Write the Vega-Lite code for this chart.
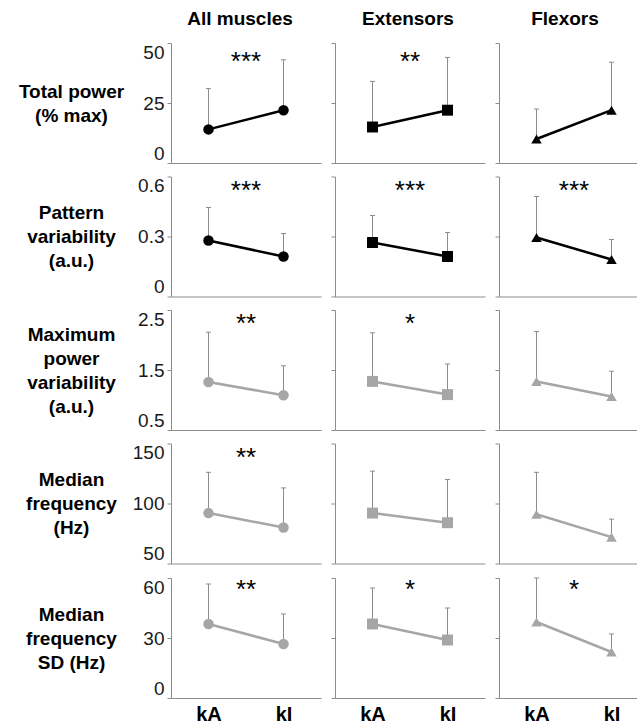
{
  "$schema": "https://vega.github.io/schema/vega-lite/v6.json",
  "padding": {"left": 18, "top": 9, "right": 0, "bottom": 0},
  "background": "white",
  "data": {"values": [
    {"m": "Total power", "g": "All muscles", "c": "kA", "v": 14, "e": 31, "s": "***"},
    {"m": "Total power", "g": "All muscles", "c": "kI", "v": 22, "e": 43, "s": "***"},
    {"m": "Total power", "g": "Extensors", "c": "kA", "v": 15, "e": 34, "s": "**"},
    {"m": "Total power", "g": "Extensors", "c": "kI", "v": 22, "e": 44, "s": "**"},
    {"m": "Total power", "g": "Flexors", "c": "kA", "v": 10, "e": 22.5, "s": ""},
    {"m": "Total power", "g": "Flexors", "c": "kI", "v": 22, "e": 42, "s": ""},
    {"m": "Pattern variability", "g": "All muscles", "c": "kA", "v": 0.28, "e": 0.445, "s": "***"},
    {"m": "Pattern variability", "g": "All muscles", "c": "kI", "v": 0.2, "e": 0.315, "s": "***"},
    {"m": "Pattern variability", "g": "Extensors", "c": "kA", "v": 0.27, "e": 0.405, "s": "***"},
    {"m": "Pattern variability", "g": "Extensors", "c": "kI", "v": 0.2, "e": 0.32, "s": "***"},
    {"m": "Pattern variability", "g": "Flexors", "c": "kA", "v": 0.295, "e": 0.5, "s": "***"},
    {"m": "Pattern variability", "g": "Flexors", "c": "kI", "v": 0.185, "e": 0.285, "s": "***"},
    {"m": "Maximum power variability", "g": "All muscles", "c": "kA", "v": 1.3, "e": 2.13, "s": "**"},
    {"m": "Maximum power variability", "g": "All muscles", "c": "kI", "v": 1.08, "e": 1.57, "s": "**"},
    {"m": "Maximum power variability", "g": "Extensors", "c": "kA", "v": 1.31, "e": 2.12, "s": "*"},
    {"m": "Maximum power variability", "g": "Extensors", "c": "kI", "v": 1.09, "e": 1.6, "s": "*"},
    {"m": "Maximum power variability", "g": "Flexors", "c": "kA", "v": 1.31, "e": 2.14, "s": ""},
    {"m": "Maximum power variability", "g": "Flexors", "c": "kI", "v": 1.06, "e": 1.48, "s": ""},
    {"m": "Median frequency", "g": "All muscles", "c": "kA", "v": 92, "e": 126, "s": "**"},
    {"m": "Median frequency", "g": "All muscles", "c": "kI", "v": 80, "e": 113, "s": "**"},
    {"m": "Median frequency", "g": "Extensors", "c": "kA", "v": 92, "e": 127, "s": ""},
    {"m": "Median frequency", "g": "Extensors", "c": "kI", "v": 84, "e": 120, "s": ""},
    {"m": "Median frequency", "g": "Flexors", "c": "kA", "v": 91, "e": 126, "s": ""},
    {"m": "Median frequency", "g": "Flexors", "c": "kI", "v": 72, "e": 87, "s": ""},
    {"m": "Median frequency SD", "g": "All muscles", "c": "kA", "v": 37, "e": 57, "s": "**"},
    {"m": "Median frequency SD", "g": "All muscles", "c": "kI", "v": 27, "e": 42, "s": "**"},
    {"m": "Median frequency SD", "g": "Extensors", "c": "kA", "v": 37, "e": 55, "s": "*"},
    {"m": "Median frequency SD", "g": "Extensors", "c": "kI", "v": 29, "e": 45, "s": "*"},
    {"m": "Median frequency SD", "g": "Flexors", "c": "kA", "v": 38, "e": 60, "s": "*"},
    {"m": "Median frequency SD", "g": "Flexors", "c": "kI", "v": 23, "e": 32, "s": "*"}
  ]},
  "columns": 3,
  "align": "each",
  "spacing": {"row": 11.5, "column": 9},
  "concat": [
    {"width": 150, "height": 120, "title": {"text": "All muscles", "dx": -6},
     "transform": [{"filter": "datum.m === 'Total power' && datum.g === 'All muscles'"}],
     "layer": [
       {"mark": {"type": "rule", "color": "#8c8c8c", "strokeWidth": 1}, "encoding": {"x": {"field": "c", "type": "ordinal", "scale": {"type": "point", "padding": 0.5}, "axis": {"title": null}}, "y": {"field": "v", "type": "quantitative", "scale": {"domain": [0, 50]}, "axis": {"values": [0, 25, 50], "format": ".3~r", "labels": true, "title": ["Total power", "(% max)"], "titleAngle": 0, "titleAlign": "center", "titleBaseline": "middle", "titleX": -100, "titleY": 48}}, "y2": {"field": "e"}}},
       {"mark": {"type": "tick", "color": "#8c8c8c", "size": 5, "thickness": 1, "opacity": 1}, "encoding": {"x": {"field": "c", "type": "ordinal", "scale": {"type": "point", "padding": 0.5}, "axis": {"title": null}}, "y": {"field": "e", "type": "quantitative", "scale": {"domain": [0, 50]}, "axis": {"values": [0, 25, 50], "format": ".3~r", "labels": true, "title": ["Total power", "(% max)"], "titleAngle": 0, "titleAlign": "center", "titleBaseline": "middle", "titleX": -100, "titleY": 48}}}},
       {"mark": {"type": "line", "color": "#000", "strokeWidth": 2.5}, "encoding": {"x": {"field": "c", "type": "ordinal", "scale": {"type": "point", "padding": 0.5}, "axis": {"title": null}}, "y": {"field": "v", "type": "quantitative", "scale": {"domain": [0, 50]}, "axis": {"values": [0, 25, 50], "format": ".3~r", "labels": true, "title": ["Total power", "(% max)"], "titleAngle": 0, "titleAlign": "center", "titleBaseline": "middle", "titleX": -100, "titleY": 48}}}},
       {"mark": {"type": "point", "shape": "circle", "filled": true, "size": 110, "color": "#000", "opacity": 1}, "encoding": {"x": {"field": "c", "type": "ordinal", "scale": {"type": "point", "padding": 0.5}, "axis": {"title": null}}, "y": {"field": "v", "type": "quantitative", "scale": {"domain": [0, 50]}, "axis": {"values": [0, 25, 50], "format": ".3~r", "labels": true, "title": ["Total power", "(% max)"], "titleAngle": 0, "titleAlign": "center", "titleBaseline": "middle", "titleX": -100, "titleY": 48}}}},
       {"transform": [{"filter": "datum.c === 'kA'"}], "mark": {"type": "text", "fontSize": 26, "font": "Liberation Sans", "color": "#000", "baseline": "middle"}, "encoding": {"y": {"datum": 42, "type": "quantitative", "scale": {"domain": [0, 50]}, "axis": {"values": [0, 25, 50], "format": ".3~r", "labels": true, "title": ["Total power", "(% max)"], "titleAngle": 0, "titleAlign": "center", "titleBaseline": "middle", "titleX": -100, "titleY": 48}}, "text": {"field": "s"}}}
     ]},
    {"width": 150, "height": 120, "title": {"text": "Extensors", "dx": -2},
     "transform": [{"filter": "datum.m === 'Total power' && datum.g === 'Extensors'"}],
     "layer": [
       {"mark": {"type": "rule", "color": "#8c8c8c", "strokeWidth": 1}, "encoding": {"x": {"field": "c", "type": "ordinal", "scale": {"type": "point", "padding": 0.5}, "axis": {"title": null}}, "y": {"field": "v", "type": "quantitative", "scale": {"domain": [0, 50]}, "axis": {"values": [0, 25, 50], "labels": false, "title": null}}, "y2": {"field": "e"}}},
       {"mark": {"type": "tick", "color": "#8c8c8c", "size": 5, "thickness": 1, "opacity": 1}, "encoding": {"x": {"field": "c", "type": "ordinal", "scale": {"type": "point", "padding": 0.5}, "axis": {"title": null}}, "y": {"field": "e", "type": "quantitative", "scale": {"domain": [0, 50]}, "axis": {"values": [0, 25, 50], "labels": false, "title": null}}}},
       {"mark": {"type": "line", "color": "#000", "strokeWidth": 2.5}, "encoding": {"x": {"field": "c", "type": "ordinal", "scale": {"type": "point", "padding": 0.5}, "axis": {"title": null}}, "y": {"field": "v", "type": "quantitative", "scale": {"domain": [0, 50]}, "axis": {"values": [0, 25, 50], "labels": false, "title": null}}}},
       {"mark": {"type": "point", "shape": "square", "filled": true, "size": 120, "color": "#000", "opacity": 1}, "encoding": {"x": {"field": "c", "type": "ordinal", "scale": {"type": "point", "padding": 0.5}, "axis": {"title": null}}, "y": {"field": "v", "type": "quantitative", "scale": {"domain": [0, 50]}, "axis": {"values": [0, 25, 50], "labels": false, "title": null}}}},
       {"transform": [{"filter": "datum.c === 'kA'"}], "mark": {"type": "text", "fontSize": 26, "font": "Liberation Sans", "color": "#000", "baseline": "middle"}, "encoding": {"y": {"datum": 42, "type": "quantitative", "scale": {"domain": [0, 50]}, "axis": {"values": [0, 25, 50], "labels": false, "title": null}}, "text": {"field": "s"}}}
     ]},
    {"width": 150, "height": 120, "title": {"text": "Flexors", "dx": -9},
     "transform": [{"filter": "datum.m === 'Total power' && datum.g === 'Flexors'"}],
     "layer": [
       {"mark": {"type": "rule", "color": "#8c8c8c", "strokeWidth": 1}, "encoding": {"x": {"field": "c", "type": "ordinal", "scale": {"type": "point", "padding": 0.5}, "axis": {"title": null}}, "y": {"field": "v", "type": "quantitative", "scale": {"domain": [0, 50]}, "axis": {"values": [0, 25, 50], "labels": false, "title": null}}, "y2": {"field": "e"}}},
       {"mark": {"type": "tick", "color": "#8c8c8c", "size": 5, "thickness": 1, "opacity": 1}, "encoding": {"x": {"field": "c", "type": "ordinal", "scale": {"type": "point", "padding": 0.5}, "axis": {"title": null}}, "y": {"field": "e", "type": "quantitative", "scale": {"domain": [0, 50]}, "axis": {"values": [0, 25, 50], "labels": false, "title": null}}}},
       {"mark": {"type": "line", "color": "#000", "strokeWidth": 2.5}, "encoding": {"x": {"field": "c", "type": "ordinal", "scale": {"type": "point", "padding": 0.5}, "axis": {"title": null}}, "y": {"field": "v", "type": "quantitative", "scale": {"domain": [0, 50]}, "axis": {"values": [0, 25, 50], "labels": false, "title": null}}}},
       {"mark": {"type": "point", "shape": "triangle-up", "filled": true, "size": 110, "color": "#000", "opacity": 1}, "encoding": {"x": {"field": "c", "type": "ordinal", "scale": {"type": "point", "padding": 0.5}, "axis": {"title": null}}, "y": {"field": "v", "type": "quantitative", "scale": {"domain": [0, 50]}, "axis": {"values": [0, 25, 50], "labels": false, "title": null}}}},
       {"transform": [{"filter": "datum.c === 'kA'"}], "mark": {"type": "text", "fontSize": 26, "font": "Liberation Sans", "color": "#000", "baseline": "middle"}, "encoding": {"y": {"datum": 42, "type": "quantitative", "scale": {"domain": [0, 50]}, "axis": {"values": [0, 25, 50], "labels": false, "title": null}}, "text": {"field": "s"}}}
     ]},

    {"width": 150, "height": 120,
     "transform": [{"filter": "datum.m === 'Pattern variability' && datum.g === 'All muscles'"}],
     "layer": [
       {"mark": {"type": "rule", "color": "#8c8c8c", "strokeWidth": 1}, "encoding": {"x": {"field": "c", "type": "ordinal", "scale": {"type": "point", "padding": 0.5}, "axis": {"title": null}}, "y": {"field": "v", "type": "quantitative", "scale": {"domain": [0, 0.6]}, "axis": {"values": [0, 0.3, 0.6], "format": ".3~r", "labels": true, "title": ["Pattern", "variability", "(a.u.)"], "titleAngle": 0, "titleAlign": "center", "titleBaseline": "middle", "titleX": -100, "titleY": 36}}, "y2": {"field": "e"}}},
       {"mark": {"type": "tick", "color": "#8c8c8c", "size": 5, "thickness": 1, "opacity": 1}, "encoding": {"x": {"field": "c", "type": "ordinal", "scale": {"type": "point", "padding": 0.5}, "axis": {"title": null}}, "y": {"field": "e", "type": "quantitative", "scale": {"domain": [0, 0.6]}, "axis": {"values": [0, 0.3, 0.6], "format": ".3~r", "labels": true, "title": ["Pattern", "variability", "(a.u.)"], "titleAngle": 0, "titleAlign": "center", "titleBaseline": "middle", "titleX": -100, "titleY": 36}}}},
       {"mark": {"type": "line", "color": "#000", "strokeWidth": 2.5}, "encoding": {"x": {"field": "c", "type": "ordinal", "scale": {"type": "point", "padding": 0.5}, "axis": {"title": null}}, "y": {"field": "v", "type": "quantitative", "scale": {"domain": [0, 0.6]}, "axis": {"values": [0, 0.3, 0.6], "format": ".3~r", "labels": true, "title": ["Pattern", "variability", "(a.u.)"], "titleAngle": 0, "titleAlign": "center", "titleBaseline": "middle", "titleX": -100, "titleY": 36}}}},
       {"mark": {"type": "point", "shape": "circle", "filled": true, "size": 110, "color": "#000", "opacity": 1}, "encoding": {"x": {"field": "c", "type": "ordinal", "scale": {"type": "point", "padding": 0.5}, "axis": {"title": null}}, "y": {"field": "v", "type": "quantitative", "scale": {"domain": [0, 0.6]}, "axis": {"values": [0, 0.3, 0.6], "format": ".3~r", "labels": true, "title": ["Pattern", "variability", "(a.u.)"], "titleAngle": 0, "titleAlign": "center", "titleBaseline": "middle", "titleX": -100, "titleY": 36}}}},
       {"transform": [{"filter": "datum.c === 'kA'"}], "mark": {"type": "text", "fontSize": 26, "font": "Liberation Sans", "color": "#000", "baseline": "middle"}, "encoding": {"y": {"datum": 0.53, "type": "quantitative", "scale": {"domain": [0, 0.6]}, "axis": {"values": [0, 0.3, 0.6], "format": ".3~r", "labels": true, "title": ["Pattern", "variability", "(a.u.)"], "titleAngle": 0, "titleAlign": "center", "titleBaseline": "middle", "titleX": -100, "titleY": 36}}, "text": {"field": "s"}}}
     ]},
    {"width": 150, "height": 120,
     "transform": [{"filter": "datum.m === 'Pattern variability' && datum.g === 'Extensors'"}],
     "layer": [
       {"mark": {"type": "rule", "color": "#8c8c8c", "strokeWidth": 1}, "encoding": {"x": {"field": "c", "type": "ordinal", "scale": {"type": "point", "padding": 0.5}, "axis": {"title": null}}, "y": {"field": "v", "type": "quantitative", "scale": {"domain": [0, 0.6]}, "axis": {"values": [0, 0.3, 0.6], "labels": false, "title": null}}, "y2": {"field": "e"}}},
       {"mark": {"type": "tick", "color": "#8c8c8c", "size": 5, "thickness": 1, "opacity": 1}, "encoding": {"x": {"field": "c", "type": "ordinal", "scale": {"type": "point", "padding": 0.5}, "axis": {"title": null}}, "y": {"field": "e", "type": "quantitative", "scale": {"domain": [0, 0.6]}, "axis": {"values": [0, 0.3, 0.6], "labels": false, "title": null}}}},
       {"mark": {"type": "line", "color": "#000", "strokeWidth": 2.5}, "encoding": {"x": {"field": "c", "type": "ordinal", "scale": {"type": "point", "padding": 0.5}, "axis": {"title": null}}, "y": {"field": "v", "type": "quantitative", "scale": {"domain": [0, 0.6]}, "axis": {"values": [0, 0.3, 0.6], "labels": false, "title": null}}}},
       {"mark": {"type": "point", "shape": "square", "filled": true, "size": 120, "color": "#000", "opacity": 1}, "encoding": {"x": {"field": "c", "type": "ordinal", "scale": {"type": "point", "padding": 0.5}, "axis": {"title": null}}, "y": {"field": "v", "type": "quantitative", "scale": {"domain": [0, 0.6]}, "axis": {"values": [0, 0.3, 0.6], "labels": false, "title": null}}}},
       {"transform": [{"filter": "datum.c === 'kA'"}], "mark": {"type": "text", "fontSize": 26, "font": "Liberation Sans", "color": "#000", "baseline": "middle"}, "encoding": {"y": {"datum": 0.53, "type": "quantitative", "scale": {"domain": [0, 0.6]}, "axis": {"values": [0, 0.3, 0.6], "labels": false, "title": null}}, "text": {"field": "s"}}}
     ]},
    {"width": 150, "height": 120,
     "transform": [{"filter": "datum.m === 'Pattern variability' && datum.g === 'Flexors'"}],
     "layer": [
       {"mark": {"type": "rule", "color": "#8c8c8c", "strokeWidth": 1}, "encoding": {"x": {"field": "c", "type": "ordinal", "scale": {"type": "point", "padding": 0.5}, "axis": {"title": null}}, "y": {"field": "v", "type": "quantitative", "scale": {"domain": [0, 0.6]}, "axis": {"values": [0, 0.3, 0.6], "labels": false, "title": null}}, "y2": {"field": "e"}}},
       {"mark": {"type": "tick", "color": "#8c8c8c", "size": 5, "thickness": 1, "opacity": 1}, "encoding": {"x": {"field": "c", "type": "ordinal", "scale": {"type": "point", "padding": 0.5}, "axis": {"title": null}}, "y": {"field": "e", "type": "quantitative", "scale": {"domain": [0, 0.6]}, "axis": {"values": [0, 0.3, 0.6], "labels": false, "title": null}}}},
       {"mark": {"type": "line", "color": "#000", "strokeWidth": 2.5}, "encoding": {"x": {"field": "c", "type": "ordinal", "scale": {"type": "point", "padding": 0.5}, "axis": {"title": null}}, "y": {"field": "v", "type": "quantitative", "scale": {"domain": [0, 0.6]}, "axis": {"values": [0, 0.3, 0.6], "labels": false, "title": null}}}},
       {"mark": {"type": "point", "shape": "triangle-up", "filled": true, "size": 110, "color": "#000", "opacity": 1}, "encoding": {"x": {"field": "c", "type": "ordinal", "scale": {"type": "point", "padding": 0.5}, "axis": {"title": null}}, "y": {"field": "v", "type": "quantitative", "scale": {"domain": [0, 0.6]}, "axis": {"values": [0, 0.3, 0.6], "labels": false, "title": null}}}},
       {"transform": [{"filter": "datum.c === 'kA'"}], "mark": {"type": "text", "fontSize": 26, "font": "Liberation Sans", "color": "#000", "baseline": "middle"}, "encoding": {"y": {"datum": 0.53, "type": "quantitative", "scale": {"domain": [0, 0.6]}, "axis": {"values": [0, 0.3, 0.6], "labels": false, "title": null}}, "text": {"field": "s"}}}
     ]},

    {"width": 150, "height": 120,
     "transform": [{"filter": "datum.m === 'Maximum power variability' && datum.g === 'All muscles'"}],
     "layer": [
       {"mark": {"type": "rule", "color": "#8c8c8c", "strokeWidth": 1}, "encoding": {"x": {"field": "c", "type": "ordinal", "scale": {"type": "point", "padding": 0.5}, "axis": {"title": null}}, "y": {"field": "v", "type": "quantitative", "scale": {"domain": [0.5, 2.5]}, "axis": {"values": [0.5, 1.5, 2.5], "format": ".3~r", "labels": true, "title": ["Maximum", "power", "variability", "(a.u.)"], "titleAngle": 0, "titleAlign": "center", "titleBaseline": "middle", "titleX": -100, "titleY": 24}}, "y2": {"field": "e"}}},
       {"mark": {"type": "tick", "color": "#8c8c8c", "size": 5, "thickness": 1, "opacity": 1}, "encoding": {"x": {"field": "c", "type": "ordinal", "scale": {"type": "point", "padding": 0.5}, "axis": {"title": null}}, "y": {"field": "e", "type": "quantitative", "scale": {"domain": [0.5, 2.5]}, "axis": {"values": [0.5, 1.5, 2.5], "format": ".3~r", "labels": true, "title": ["Maximum", "power", "variability", "(a.u.)"], "titleAngle": 0, "titleAlign": "center", "titleBaseline": "middle", "titleX": -100, "titleY": 24}}}},
       {"mark": {"type": "line", "color": "#a6a6a6", "strokeWidth": 2.5}, "encoding": {"x": {"field": "c", "type": "ordinal", "scale": {"type": "point", "padding": 0.5}, "axis": {"title": null}}, "y": {"field": "v", "type": "quantitative", "scale": {"domain": [0.5, 2.5]}, "axis": {"values": [0.5, 1.5, 2.5], "format": ".3~r", "labels": true, "title": ["Maximum", "power", "variability", "(a.u.)"], "titleAngle": 0, "titleAlign": "center", "titleBaseline": "middle", "titleX": -100, "titleY": 24}}}},
       {"mark": {"type": "point", "shape": "circle", "filled": true, "size": 110, "color": "#a6a6a6", "opacity": 1}, "encoding": {"x": {"field": "c", "type": "ordinal", "scale": {"type": "point", "padding": 0.5}, "axis": {"title": null}}, "y": {"field": "v", "type": "quantitative", "scale": {"domain": [0.5, 2.5]}, "axis": {"values": [0.5, 1.5, 2.5], "format": ".3~r", "labels": true, "title": ["Maximum", "power", "variability", "(a.u.)"], "titleAngle": 0, "titleAlign": "center", "titleBaseline": "middle", "titleX": -100, "titleY": 24}}}},
       {"transform": [{"filter": "datum.c === 'kA'"}], "mark": {"type": "text", "fontSize": 26, "font": "Liberation Sans", "color": "#000", "baseline": "middle"}, "encoding": {"y": {"datum": 2.27, "type": "quantitative", "scale": {"domain": [0.5, 2.5]}, "axis": {"values": [0.5, 1.5, 2.5], "format": ".3~r", "labels": true, "title": ["Maximum", "power", "variability", "(a.u.)"], "titleAngle": 0, "titleAlign": "center", "titleBaseline": "middle", "titleX": -100, "titleY": 24}}, "text": {"field": "s"}}}
     ]},
    {"width": 150, "height": 120,
     "transform": [{"filter": "datum.m === 'Maximum power variability' && datum.g === 'Extensors'"}],
     "layer": [
       {"mark": {"type": "rule", "color": "#8c8c8c", "strokeWidth": 1}, "encoding": {"x": {"field": "c", "type": "ordinal", "scale": {"type": "point", "padding": 0.5}, "axis": {"title": null}}, "y": {"field": "v", "type": "quantitative", "scale": {"domain": [0.5, 2.5]}, "axis": {"values": [0.5, 1.5, 2.5], "labels": false, "title": null}}, "y2": {"field": "e"}}},
       {"mark": {"type": "tick", "color": "#8c8c8c", "size": 5, "thickness": 1, "opacity": 1}, "encoding": {"x": {"field": "c", "type": "ordinal", "scale": {"type": "point", "padding": 0.5}, "axis": {"title": null}}, "y": {"field": "e", "type": "quantitative", "scale": {"domain": [0.5, 2.5]}, "axis": {"values": [0.5, 1.5, 2.5], "labels": false, "title": null}}}},
       {"mark": {"type": "line", "color": "#a6a6a6", "strokeWidth": 2.5}, "encoding": {"x": {"field": "c", "type": "ordinal", "scale": {"type": "point", "padding": 0.5}, "axis": {"title": null}}, "y": {"field": "v", "type": "quantitative", "scale": {"domain": [0.5, 2.5]}, "axis": {"values": [0.5, 1.5, 2.5], "labels": false, "title": null}}}},
       {"mark": {"type": "point", "shape": "square", "filled": true, "size": 120, "color": "#a6a6a6", "opacity": 1}, "encoding": {"x": {"field": "c", "type": "ordinal", "scale": {"type": "point", "padding": 0.5}, "axis": {"title": null}}, "y": {"field": "v", "type": "quantitative", "scale": {"domain": [0.5, 2.5]}, "axis": {"values": [0.5, 1.5, 2.5], "labels": false, "title": null}}}},
       {"transform": [{"filter": "datum.c === 'kA'"}], "mark": {"type": "text", "fontSize": 26, "font": "Liberation Sans", "color": "#000", "baseline": "middle"}, "encoding": {"y": {"datum": 2.27, "type": "quantitative", "scale": {"domain": [0.5, 2.5]}, "axis": {"values": [0.5, 1.5, 2.5], "labels": false, "title": null}}, "text": {"field": "s"}}}
     ]},
    {"width": 150, "height": 120,
     "transform": [{"filter": "datum.m === 'Maximum power variability' && datum.g === 'Flexors'"}],
     "layer": [
       {"mark": {"type": "rule", "color": "#8c8c8c", "strokeWidth": 1}, "encoding": {"x": {"field": "c", "type": "ordinal", "scale": {"type": "point", "padding": 0.5}, "axis": {"title": null}}, "y": {"field": "v", "type": "quantitative", "scale": {"domain": [0.5, 2.5]}, "axis": {"values": [0.5, 1.5, 2.5], "labels": false, "title": null}}, "y2": {"field": "e"}}},
       {"mark": {"type": "tick", "color": "#8c8c8c", "size": 5, "thickness": 1, "opacity": 1}, "encoding": {"x": {"field": "c", "type": "ordinal", "scale": {"type": "point", "padding": 0.5}, "axis": {"title": null}}, "y": {"field": "e", "type": "quantitative", "scale": {"domain": [0.5, 2.5]}, "axis": {"values": [0.5, 1.5, 2.5], "labels": false, "title": null}}}},
       {"mark": {"type": "line", "color": "#a6a6a6", "strokeWidth": 2.5}, "encoding": {"x": {"field": "c", "type": "ordinal", "scale": {"type": "point", "padding": 0.5}, "axis": {"title": null}}, "y": {"field": "v", "type": "quantitative", "scale": {"domain": [0.5, 2.5]}, "axis": {"values": [0.5, 1.5, 2.5], "labels": false, "title": null}}}},
       {"mark": {"type": "point", "shape": "triangle-up", "filled": true, "size": 110, "color": "#a6a6a6", "opacity": 1}, "encoding": {"x": {"field": "c", "type": "ordinal", "scale": {"type": "point", "padding": 0.5}, "axis": {"title": null}}, "y": {"field": "v", "type": "quantitative", "scale": {"domain": [0.5, 2.5]}, "axis": {"values": [0.5, 1.5, 2.5], "labels": false, "title": null}}}},
       {"transform": [{"filter": "datum.c === 'kA'"}], "mark": {"type": "text", "fontSize": 26, "font": "Liberation Sans", "color": "#000", "baseline": "middle"}, "encoding": {"y": {"datum": 2.27, "type": "quantitative", "scale": {"domain": [0.5, 2.5]}, "axis": {"values": [0.5, 1.5, 2.5], "labels": false, "title": null}}, "text": {"field": "s"}}}
     ]},

    {"width": 150, "height": 120,
     "transform": [{"filter": "datum.m === 'Median frequency' && datum.g === 'All muscles'"}],
     "layer": [
       {"mark": {"type": "rule", "color": "#8c8c8c", "strokeWidth": 1}, "encoding": {"x": {"field": "c", "type": "ordinal", "scale": {"type": "point", "padding": 0.5}, "axis": {"title": null}}, "y": {"field": "v", "type": "quantitative", "scale": {"domain": [50, 150]}, "axis": {"values": [50, 100, 150], "format": ".3~r", "labels": true, "title": ["Median", "frequency", "(Hz)"], "titleAngle": 0, "titleAlign": "center", "titleBaseline": "middle", "titleX": -100, "titleY": 36}}, "y2": {"field": "e"}}},
       {"mark": {"type": "tick", "color": "#8c8c8c", "size": 5, "thickness": 1, "opacity": 1}, "encoding": {"x": {"field": "c", "type": "ordinal", "scale": {"type": "point", "padding": 0.5}, "axis": {"title": null}}, "y": {"field": "e", "type": "quantitative", "scale": {"domain": [50, 150]}, "axis": {"values": [50, 100, 150], "format": ".3~r", "labels": true, "title": ["Median", "frequency", "(Hz)"], "titleAngle": 0, "titleAlign": "center", "titleBaseline": "middle", "titleX": -100, "titleY": 36}}}},
       {"mark": {"type": "line", "color": "#a6a6a6", "strokeWidth": 2.5}, "encoding": {"x": {"field": "c", "type": "ordinal", "scale": {"type": "point", "padding": 0.5}, "axis": {"title": null}}, "y": {"field": "v", "type": "quantitative", "scale": {"domain": [50, 150]}, "axis": {"values": [50, 100, 150], "format": ".3~r", "labels": true, "title": ["Median", "frequency", "(Hz)"], "titleAngle": 0, "titleAlign": "center", "titleBaseline": "middle", "titleX": -100, "titleY": 36}}}},
       {"mark": {"type": "point", "shape": "circle", "filled": true, "size": 110, "color": "#a6a6a6", "opacity": 1}, "encoding": {"x": {"field": "c", "type": "ordinal", "scale": {"type": "point", "padding": 0.5}, "axis": {"title": null}}, "y": {"field": "v", "type": "quantitative", "scale": {"domain": [50, 150]}, "axis": {"values": [50, 100, 150], "format": ".3~r", "labels": true, "title": ["Median", "frequency", "(Hz)"], "titleAngle": 0, "titleAlign": "center", "titleBaseline": "middle", "titleX": -100, "titleY": 36}}}},
       {"transform": [{"filter": "datum.c === 'kA'"}], "mark": {"type": "text", "fontSize": 26, "font": "Liberation Sans", "color": "#000", "baseline": "middle"}, "encoding": {"y": {"datum": 138, "type": "quantitative", "scale": {"domain": [50, 150]}, "axis": {"values": [50, 100, 150], "format": ".3~r", "labels": true, "title": ["Median", "frequency", "(Hz)"], "titleAngle": 0, "titleAlign": "center", "titleBaseline": "middle", "titleX": -100, "titleY": 36}}, "text": {"field": "s"}}}
     ]},
    {"width": 150, "height": 120,
     "transform": [{"filter": "datum.m === 'Median frequency' && datum.g === 'Extensors'"}],
     "layer": [
       {"mark": {"type": "rule", "color": "#8c8c8c", "strokeWidth": 1}, "encoding": {"x": {"field": "c", "type": "ordinal", "scale": {"type": "point", "padding": 0.5}, "axis": {"title": null}}, "y": {"field": "v", "type": "quantitative", "scale": {"domain": [50, 150]}, "axis": {"values": [50, 100, 150], "labels": false, "title": null}}, "y2": {"field": "e"}}},
       {"mark": {"type": "tick", "color": "#8c8c8c", "size": 5, "thickness": 1, "opacity": 1}, "encoding": {"x": {"field": "c", "type": "ordinal", "scale": {"type": "point", "padding": 0.5}, "axis": {"title": null}}, "y": {"field": "e", "type": "quantitative", "scale": {"domain": [50, 150]}, "axis": {"values": [50, 100, 150], "labels": false, "title": null}}}},
       {"mark": {"type": "line", "color": "#a6a6a6", "strokeWidth": 2.5}, "encoding": {"x": {"field": "c", "type": "ordinal", "scale": {"type": "point", "padding": 0.5}, "axis": {"title": null}}, "y": {"field": "v", "type": "quantitative", "scale": {"domain": [50, 150]}, "axis": {"values": [50, 100, 150], "labels": false, "title": null}}}},
       {"mark": {"type": "point", "shape": "square", "filled": true, "size": 120, "color": "#a6a6a6", "opacity": 1}, "encoding": {"x": {"field": "c", "type": "ordinal", "scale": {"type": "point", "padding": 0.5}, "axis": {"title": null}}, "y": {"field": "v", "type": "quantitative", "scale": {"domain": [50, 150]}, "axis": {"values": [50, 100, 150], "labels": false, "title": null}}}},
       {"transform": [{"filter": "datum.c === 'kA'"}], "mark": {"type": "text", "fontSize": 26, "font": "Liberation Sans", "color": "#000", "baseline": "middle"}, "encoding": {"y": {"datum": 138, "type": "quantitative", "scale": {"domain": [50, 150]}, "axis": {"values": [50, 100, 150], "labels": false, "title": null}}, "text": {"field": "s"}}}
     ]},
    {"width": 150, "height": 120,
     "transform": [{"filter": "datum.m === 'Median frequency' && datum.g === 'Flexors'"}],
     "layer": [
       {"mark": {"type": "rule", "color": "#8c8c8c", "strokeWidth": 1}, "encoding": {"x": {"field": "c", "type": "ordinal", "scale": {"type": "point", "padding": 0.5}, "axis": {"title": null}}, "y": {"field": "v", "type": "quantitative", "scale": {"domain": [50, 150]}, "axis": {"values": [50, 100, 150], "labels": false, "title": null}}, "y2": {"field": "e"}}},
       {"mark": {"type": "tick", "color": "#8c8c8c", "size": 5, "thickness": 1, "opacity": 1}, "encoding": {"x": {"field": "c", "type": "ordinal", "scale": {"type": "point", "padding": 0.5}, "axis": {"title": null}}, "y": {"field": "e", "type": "quantitative", "scale": {"domain": [50, 150]}, "axis": {"values": [50, 100, 150], "labels": false, "title": null}}}},
       {"mark": {"type": "line", "color": "#a6a6a6", "strokeWidth": 2.5}, "encoding": {"x": {"field": "c", "type": "ordinal", "scale": {"type": "point", "padding": 0.5}, "axis": {"title": null}}, "y": {"field": "v", "type": "quantitative", "scale": {"domain": [50, 150]}, "axis": {"values": [50, 100, 150], "labels": false, "title": null}}}},
       {"mark": {"type": "point", "shape": "triangle-up", "filled": true, "size": 110, "color": "#a6a6a6", "opacity": 1}, "encoding": {"x": {"field": "c", "type": "ordinal", "scale": {"type": "point", "padding": 0.5}, "axis": {"title": null}}, "y": {"field": "v", "type": "quantitative", "scale": {"domain": [50, 150]}, "axis": {"values": [50, 100, 150], "labels": false, "title": null}}}},
       {"transform": [{"filter": "datum.c === 'kA'"}], "mark": {"type": "text", "fontSize": 26, "font": "Liberation Sans", "color": "#000", "baseline": "middle"}, "encoding": {"y": {"datum": 138, "type": "quantitative", "scale": {"domain": [50, 150]}, "axis": {"values": [50, 100, 150], "labels": false, "title": null}}, "text": {"field": "s"}}}
     ]},

    {"width": 150, "height": 120,
     "transform": [{"filter": "datum.m === 'Median frequency SD' && datum.g === 'All muscles'"}],
     "layer": [
       {"mark": {"type": "rule", "color": "#8c8c8c", "strokeWidth": 1}, "encoding": {"x": {"field": "c", "type": "ordinal", "scale": {"type": "point", "padding": 0.5}, "axis": {"title": null, "labels": true}}, "y": {"field": "v", "type": "quantitative", "scale": {"domain": [0, 60]}, "axis": {"values": [0, 30, 60], "format": ".3~r", "labels": true, "title": ["Median", "frequency", "SD (Hz)"], "titleAngle": 0, "titleAlign": "center", "titleBaseline": "middle", "titleX": -100, "titleY": 36}}, "y2": {"field": "e"}}},
       {"mark": {"type": "tick", "color": "#8c8c8c", "size": 5, "thickness": 1, "opacity": 1}, "encoding": {"x": {"field": "c", "type": "ordinal", "scale": {"type": "point", "padding": 0.5}, "axis": {"title": null, "labels": true}}, "y": {"field": "e", "type": "quantitative", "scale": {"domain": [0, 60]}, "axis": {"values": [0, 30, 60], "format": ".3~r", "labels": true, "title": ["Median", "frequency", "SD (Hz)"], "titleAngle": 0, "titleAlign": "center", "titleBaseline": "middle", "titleX": -100, "titleY": 36}}}},
       {"mark": {"type": "line", "color": "#a6a6a6", "strokeWidth": 2.5}, "encoding": {"x": {"field": "c", "type": "ordinal", "scale": {"type": "point", "padding": 0.5}, "axis": {"title": null, "labels": true}}, "y": {"field": "v", "type": "quantitative", "scale": {"domain": [0, 60]}, "axis": {"values": [0, 30, 60], "format": ".3~r", "labels": true, "title": ["Median", "frequency", "SD (Hz)"], "titleAngle": 0, "titleAlign": "center", "titleBaseline": "middle", "titleX": -100, "titleY": 36}}}},
       {"mark": {"type": "point", "shape": "circle", "filled": true, "size": 110, "color": "#a6a6a6", "opacity": 1}, "encoding": {"x": {"field": "c", "type": "ordinal", "scale": {"type": "point", "padding": 0.5}, "axis": {"title": null, "labels": true}}, "y": {"field": "v", "type": "quantitative", "scale": {"domain": [0, 60]}, "axis": {"values": [0, 30, 60], "format": ".3~r", "labels": true, "title": ["Median", "frequency", "SD (Hz)"], "titleAngle": 0, "titleAlign": "center", "titleBaseline": "middle", "titleX": -100, "titleY": 36}}}},
       {"transform": [{"filter": "datum.c === 'kA'"}], "mark": {"type": "text", "fontSize": 26, "font": "Liberation Sans", "color": "#000", "baseline": "middle"}, "encoding": {"y": {"datum": 54, "type": "quantitative", "scale": {"domain": [0, 60]}, "axis": {"values": [0, 30, 60], "format": ".3~r", "labels": true, "title": ["Median", "frequency", "SD (Hz)"], "titleAngle": 0, "titleAlign": "center", "titleBaseline": "middle", "titleX": -100, "titleY": 36}}, "text": {"field": "s"}}}
     ]},
    {"width": 150, "height": 120,
     "transform": [{"filter": "datum.m === 'Median frequency SD' && datum.g === 'Extensors'"}],
     "layer": [
       {"mark": {"type": "rule", "color": "#8c8c8c", "strokeWidth": 1}, "encoding": {"x": {"field": "c", "type": "ordinal", "scale": {"type": "point", "padding": 0.5}, "axis": {"title": null, "labels": true}}, "y": {"field": "v", "type": "quantitative", "scale": {"domain": [0, 60]}, "axis": {"values": [0, 30, 60], "labels": false, "title": null}}, "y2": {"field": "e"}}},
       {"mark": {"type": "tick", "color": "#8c8c8c", "size": 5, "thickness": 1, "opacity": 1}, "encoding": {"x": {"field": "c", "type": "ordinal", "scale": {"type": "point", "padding": 0.5}, "axis": {"title": null, "labels": true}}, "y": {"field": "e", "type": "quantitative", "scale": {"domain": [0, 60]}, "axis": {"values": [0, 30, 60], "labels": false, "title": null}}}},
       {"mark": {"type": "line", "color": "#a6a6a6", "strokeWidth": 2.5}, "encoding": {"x": {"field": "c", "type": "ordinal", "scale": {"type": "point", "padding": 0.5}, "axis": {"title": null, "labels": true}}, "y": {"field": "v", "type": "quantitative", "scale": {"domain": [0, 60]}, "axis": {"values": [0, 30, 60], "labels": false, "title": null}}}},
       {"mark": {"type": "point", "shape": "square", "filled": true, "size": 120, "color": "#a6a6a6", "opacity": 1}, "encoding": {"x": {"field": "c", "type": "ordinal", "scale": {"type": "point", "padding": 0.5}, "axis": {"title": null, "labels": true}}, "y": {"field": "v", "type": "quantitative", "scale": {"domain": [0, 60]}, "axis": {"values": [0, 30, 60], "labels": false, "title": null}}}},
       {"transform": [{"filter": "datum.c === 'kA'"}], "mark": {"type": "text", "fontSize": 26, "font": "Liberation Sans", "color": "#000", "baseline": "middle"}, "encoding": {"y": {"datum": 54, "type": "quantitative", "scale": {"domain": [0, 60]}, "axis": {"values": [0, 30, 60], "labels": false, "title": null}}, "text": {"field": "s"}}}
     ]},
    {"width": 150, "height": 120,
     "transform": [{"filter": "datum.m === 'Median frequency SD' && datum.g === 'Flexors'"}],
     "layer": [
       {"mark": {"type": "rule", "color": "#8c8c8c", "strokeWidth": 1}, "encoding": {"x": {"field": "c", "type": "ordinal", "scale": {"type": "point", "padding": 0.5}, "axis": {"title": null, "labels": true}}, "y": {"field": "v", "type": "quantitative", "scale": {"domain": [0, 60]}, "axis": {"values": [0, 30, 60], "labels": false, "title": null}}, "y2": {"field": "e"}}},
       {"mark": {"type": "tick", "color": "#8c8c8c", "size": 5, "thickness": 1, "opacity": 1}, "encoding": {"x": {"field": "c", "type": "ordinal", "scale": {"type": "point", "padding": 0.5}, "axis": {"title": null, "labels": true}}, "y": {"field": "e", "type": "quantitative", "scale": {"domain": [0, 60]}, "axis": {"values": [0, 30, 60], "labels": false, "title": null}}}},
       {"mark": {"type": "line", "color": "#a6a6a6", "strokeWidth": 2.5}, "encoding": {"x": {"field": "c", "type": "ordinal", "scale": {"type": "point", "padding": 0.5}, "axis": {"title": null, "labels": true}}, "y": {"field": "v", "type": "quantitative", "scale": {"domain": [0, 60]}, "axis": {"values": [0, 30, 60], "labels": false, "title": null}}}},
       {"mark": {"type": "point", "shape": "triangle-up", "filled": true, "size": 110, "color": "#a6a6a6", "opacity": 1}, "encoding": {"x": {"field": "c", "type": "ordinal", "scale": {"type": "point", "padding": 0.5}, "axis": {"title": null, "labels": true}}, "y": {"field": "v", "type": "quantitative", "scale": {"domain": [0, 60]}, "axis": {"values": [0, 30, 60], "labels": false, "title": null}}}},
       {"transform": [{"filter": "datum.c === 'kA'"}], "mark": {"type": "text", "fontSize": 26, "font": "Liberation Sans", "color": "#000", "baseline": "middle"}, "encoding": {"y": {"datum": 54, "type": "quantitative", "scale": {"domain": [0, 60]}, "axis": {"values": [0, 30, 60], "labels": false, "title": null}}, "text": {"field": "s"}}}
     ]}
  ],
  "config": {
    "view": {"stroke": null},
    "font": "Liberation Sans",
    "title": {"fontSize": 19, "font": "Liberation Sans", "fontWeight": "bold", "color": "#000", "offset": 14, "anchor": "middle"},
    "axisY": {"grid": false, "tickSize": 4, "domainColor": "#8c8c8c", "tickColor": "#8c8c8c", "labelFontSize": 19, "labelFont": "Liberation Sans", "labelColor": "#1a1a1a", "labelPadding": 3, "labelFlush": true, "titleFontSize": 19, "titleFont": "Liberation Sans", "titleFontWeight": "bold", "titleColor": "#000", "titleLineHeight": 24},
    "axisX": {"grid": false, "ticks": false, "labels": false, "domainColor": "#8c8c8c", "labelFontSize": 20, "labelFontWeight": "bold", "labelFont": "Liberation Sans", "labelColor": "#000", "labelPadding": 6, "labelAngle": 0}
  }
}
